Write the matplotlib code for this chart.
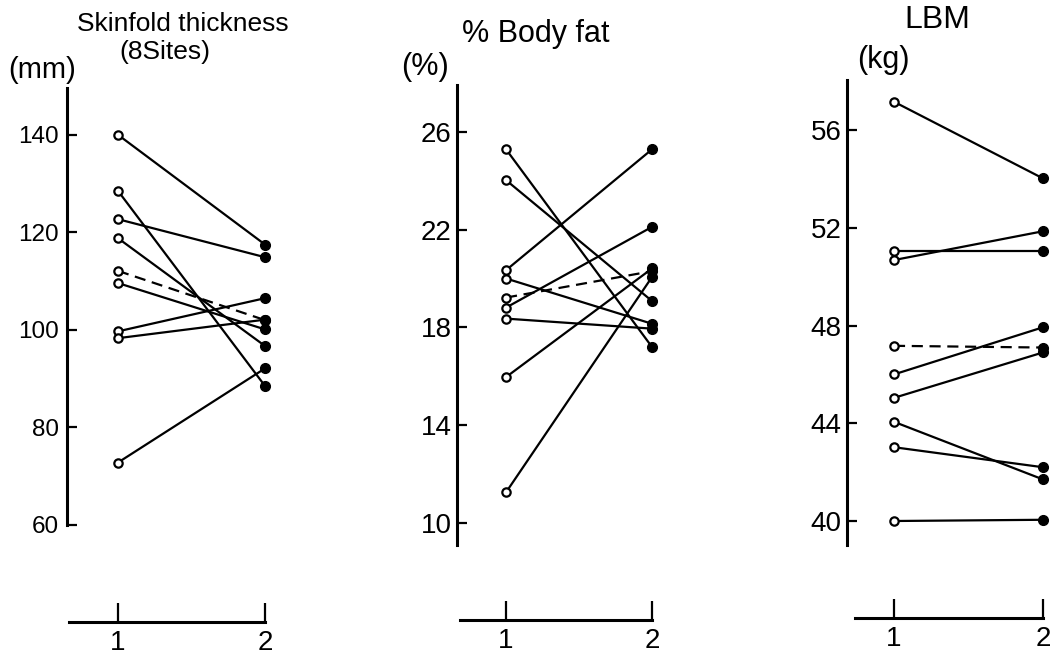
import matplotlib
matplotlib.use("Agg")
import matplotlib.pyplot as plt

plt.rcParams["font.family"] = ["Liberation Sans", "DejaVu Sans"]

# Visits on the x axis
visits = [1, 2]

# Skinfold thickness (8 sites), mm
skin_pre = [140, 128.5, 122.7, 118.8, 109.6, 99.7, 98.3, 72.8]
skin_post = [117.5, 88.5, 114.9, 96.7, 100.1, 106.5, 102.1, 92.1]
skin_mean = [112.1, 102.0]

# % Body fat
fat_pre = [25.28, 24.02, 20.34, 20.0, 18.81, 18.36, 15.97, 11.26]
fat_post = [17.2, 19.08, 25.28, 18.15, 22.11, 17.95, 20.41, 20.06]
fat_mean = [19.22, 20.3]

# LBM, kg
lbm_pre = [57.16, 51.06, 50.68, 46.0, 45.04, 44.06, 43.02, 40.0]
lbm_post = [54.02, 51.06, 51.86, 47.93, 46.9, 41.7, 42.2, 40.05]
lbm_mean = [47.17, 47.1]

skin_ticks = [60, 80, 100, 120, 140]
fat_ticks = [10, 14, 18, 22, 26]
lbm_ticks = [40, 44, 48, 52, 56]

W, H = 1060, 659
fig = plt.figure(figsize=(W / 100, H / 100), dpi=100)


def px_rect(l, r, b, t):
    return [l / W, 1 - b / H, (r - l) / W, (b - t) / H]


def panel(rect, pre, post, mean, ticks, xlim, ylim, ybounds, xbounds, ypad, ysize):
    ax = fig.add_axes(rect)
    ax.set_xlim(*xlim)
    ax.set_ylim(*ylim)
    for a, b in zip(pre, post):
        ax.plot(visits, [a, b], color="black", lw=1.6, zorder=2)
        ax.plot(visits[0], a, "o", ms=6, mfc="white", mec="black", mew=1.6, zorder=3)
        ax.plot(visits[1], b, "o", ms=7, mfc="black", mec="black", zorder=3)
    ax.plot(visits, mean, color="black", lw=1.6, ls=(0, (5, 3)), zorder=2)
    ax.plot(visits[0], mean[0], "o", ms=6, mfc="white", mec="black", mew=1.6, zorder=3)
    ax.plot(visits[1], mean[1], "o", ms=7, mfc="black", mec="black", zorder=3)

    ax.spines["top"].set_visible(False)
    ax.spines["right"].set_visible(False)
    ax.spines["left"].set_linewidth(2.2)
    ax.spines["bottom"].set_linewidth(2.2)
    ax.spines["left"].set_bounds(*ybounds)
    ax.spines["bottom"].set_bounds(*xbounds)

    ax.set_yticks(ticks)
    ax.set_yticklabels([str(t) for t in ticks])
    ax.tick_params(axis="y", direction="in", length=7, width=1.6, pad=ypad, labelsize=ysize)
    ax.set_xticks(visits)
    ax.set_xticklabels(["1", "2"])
    ax.tick_params(axis="x", direction="in", length=13.5, width=1.6, pad=6, labelsize=20)
    return ax


panel(px_rect(67, 275, 622, 88), skin_pre, skin_post, skin_mean, skin_ticks,
      (0.653, 2.068), (40.1, 149.6), (60, 149.6), (0.667, 2.0), 6, 17.5)
panel(px_rect(457, 665, 620, 85), fat_pre, fat_post, fat_mean, fat_ticks,
      (0.664, 2.089), (6.04, 27.91), (9.1, 27.91), (0.685, 2.0), 4, 20)
panel(px_rect(847, 1058, 618, 80), lbm_pre, lbm_post, lbm_mean, lbm_ticks,
      (0.685, 2.1), (36.03, 58.05), (39.0, 58.05), (0.74, 2.0), 4, 20)

# titles and units
fig.text(183 / W, 1 - 24 / H, "Skinfold thickness", ha="center", va="center", fontsize=19)
fig.text(165 / W, 1 - 52 / H, "(8Sites)", ha="center", va="center", fontsize=19)
fig.text(42 / W, 1 - 70 / H, "(mm)", ha="center", va="center", fontsize=21)
fig.text(536 / W, 1 - 34 / H, "% Body fat", ha="center", va="center", fontsize=22)
fig.text(425 / W, 1 - 67 / H, "(%)", ha="center", va="center", fontsize=22)
fig.text(937 / W, 1 - 20 / H, "LBM", ha="center", va="center", fontsize=23)
fig.text(883 / W, 1 - 60 / H, "(kg)", ha="center", va="center", fontsize=22)

fig.savefig("out.png", dpi=100, facecolor="white")
